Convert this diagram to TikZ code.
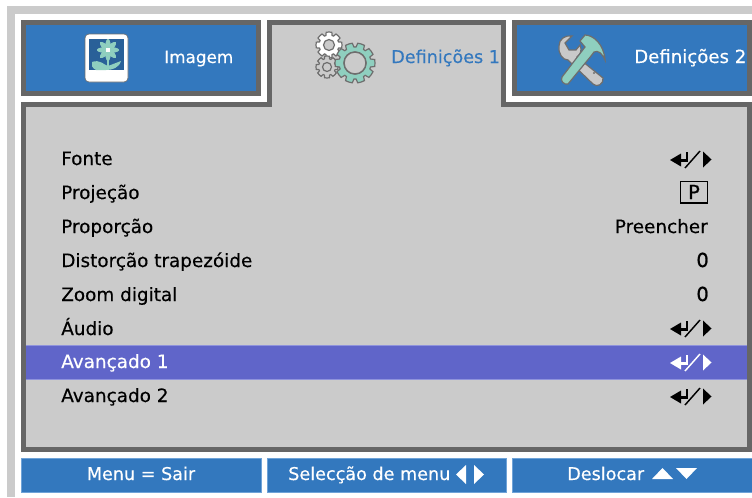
\documentclass[tikz,border=0pt]{standalone}
\usepackage{fontspec}
\setmainfont{DejaVu Sans}
\definecolor{panelgray}{HTML}{CBCBCB}
\definecolor{framedark}{HTML}{666666}
\definecolor{tabblue}{HTML}{3378BE}
\definecolor{edgeblue}{HTML}{6FA3D8}
\definecolor{rowblue}{HTML}{6065C9}
\definecolor{rowedge}{HTML}{8F93DC}
\definecolor{teal}{HTML}{8FCFBF}
\definecolor{toolgray}{HTML}{C9C9C9}
\definecolor{outl}{HTML}{6E6E6E}
\newcommand{\menufont}{\fontsize{13.8}{15}\selectfont\addfontfeatures{FakeBold=0.35}}
\newcommand{\tabfont}{\fontsize{13.2}{15}\selectfont\addfontfeatures{FakeBold=0.35}}
\newcommand{\shortfont}{\fontsize{12.6}{15}\selectfont\addfontfeatures{FakeBold=0.35}}
\newcommand{\widefont}{\fontsize{13.6}{15}\selectfont\addfontfeatures{FakeBold=0.35}}
\newcommand{\digitfont}{\fontsize{14.5}{15}\selectfont\addfontfeatures{FakeBold=1}}
\newcommand{\gearicon}[7]{% x y outer inner hole teeth fill
  \fill[#7,draw=outl,line width=0.9pt,even odd rule]
    ({#1+#3*cos(0)},{#2+#3*sin(0)})
    \foreach \k in {1,...,#6}{
      -- ({#1+#3*cos((\k-1+0.28)*360/#6)},{#2+#3*sin((\k-1+0.28)*360/#6)})
      -- ({#1+#4*cos((\k-1+0.40)*360/#6)},{#2+#4*sin((\k-1+0.40)*360/#6)})
      -- ({#1+#4*cos((\k-1+0.60)*360/#6)},{#2+#4*sin((\k-1+0.60)*360/#6)})
      -- ({#1+#3*cos((\k-1+0.72)*360/#6)},{#2+#3*sin((\k-1+0.72)*360/#6)})
      -- ({#1+#3*cos(\k*360/#6)},{#2+#3*sin(\k*360/#6)})
    } -- cycle
    (#1,#2) circle[radius=#5];
}
\newcommand{\enterarrows}[2]{% row centre y, colour
  \begin{scope}[shift={(0,#1-159)}]
    \fill[#2] (670,160) -- (681,153.5) -- (681,166.5) -- cycle;
    \draw[#2,line width=2pt] (680,160.5) -- (687,160.5) -- (687,151.5);
    \draw[#2,line width=1.1pt] (685,168) -- (700,151);
    \fill[#2] (703,151.5) -- (711.5,159.5) -- (703,167.5) -- cycle;
  \end{scope}
}
\tikzset{
  x=0.75pt,y=-0.75pt,
  menutext/.style={anchor=base west,inner sep=0pt,font=\menufont,text=black},
  valuetext/.style={anchor=base east,inner sep=0pt,font=\menufont,text=black},
  digittext/.style={anchor=base east,inner sep=0pt,font=\digitfont,text=black},
  tablabel/.style={anchor=base west,inner sep=0pt,font=\tabfont,text=white},
  btnlabel/.style={anchor=base,inner sep=0pt,font=\tabfont,text=white},
  tabbox/.style={fill=tabblue,draw=framedark,line width=3.9pt},
  btnbox/.style={fill=tabblue,draw=edgeblue,line width=0.6pt},
}
\begin{document}
\begin{tikzpicture}
\useasboundingbox (0,0) rectangle (752,497);
\fill[white] (0,0) rectangle (752,497);
% outer light frame
\fill[panelgray] (7,6) rectangle (752,14);
\fill[panelgray] (7,6) rectangle (15,497);
% main panel with raised active tab
\fill[panelgray,draw=framedark,line width=3.9pt]
  (23.6,104.6) -- (269.6,104.6) -- (269.6,22.6) -- (503.6,22.6) -- (503.6,104.6)
  -- (749.4,104.6) -- (749.4,449.4) -- (23.6,449.4) -- cycle;
% side tabs
\draw[tabbox] (23.6,22.6) rectangle (258.6,93.4);
\draw[tabbox] (514.6,22.6) rectangle (749.4,93.4);
% image icon
\fill[white,draw=outl,line width=0.5pt,rounded corners=3pt] (85,34) rectangle (128,82);
\fill[tabblue!80!black] (89,38.5) rectangle (124,70);
\foreach \a in {0,45,...,315}{
  \fill[teal,rotate around={\a:(108,50)}] (108,50) ellipse[x radius=3,y radius=11];
}
\fill[white] (106,48) rectangle (110,52);
\draw[teal,line width=1.6pt] (108,58) -- (108,68);
\fill[teal] (92,62) .. controls (100,59) and (104,65) .. (108,66)
  -- (121,61) .. controls (119,68) and (112,70) .. (106,70) -- (96,70) .. controls (92,68) and (91,65) .. (92,62) -- cycle;
% gears icon
\gearicon{329}{45}{13}{10}{5.5}{8}{white}
\gearicon{327}{67}{11}{8.5}{4.5}{8}{panelgray}
\gearicon{355}{63}{20}{16}{11}{10}{teal}
\fill[panelgray,draw=outl,line width=1.1pt] (355,63) circle[radius=11];
% tools icon
\fill[toolgray,draw=outl,line width=0.9pt]
  (559,46) .. controls (559,39) and (565,35) .. (572,36) -- (565,43) -- (569,50) -- (576,50)
  -- (580,45) .. controls (582,50) and (581,54) .. (577,57) -- (603,78)
  .. controls (604,84) and (597,88) .. (593,84) -- (568,60)
  .. controls (563,60) and (558,54) .. (559,46) -- cycle;
\fill[outl] (594,73) circle[radius=1.2];
\fill[teal,draw=outl,line width=0.9pt]
  (585,47) -- (580,41) -- (585,35) .. controls (593,35) and (604,44) .. (605,60)
  .. controls (602,53) and (598,50) .. (594,52) -- (591,56)
  -- (568,84) .. controls (564,85) and (560,81) .. (562,77) -- cycle;
% tab labels
\node[tablabel,font=\shortfont] (tab1) at (164,63) {Imagem};
\node[tablabel,text=tabblue] (tab2) at (391,63) {Definições 1};
\node[tablabel,font=\widefont] (tab3) at (634,63) {Definições 2};
% highlighted row
\fill[rowblue] (26,345) rectangle (747,379);
\draw[rowedge,line width=0.4pt] (26,345) -- (747,345) (26,379) -- (747,379);
% rows
\node[menutext] (r1) at (61,165) {Fonte};
\node[menutext] (r2) at (61,199) {Projeção};
\node[menutext] (r3) at (61,233) {Proporção};
\node[menutext] (r4) at (61,267) {Distorção trapezóide};
\node[menutext] (r5) at (61,301) {Zoom digital};
\node[menutext] (r6) at (61,335) {Áudio};
\node[menutext,text=white] (r7) at (61,368) {Avançado 1};
\node[menutext] (r8) at (61,402) {Avançado 2};
% values
\enterarrows{159}{black}
\draw[black,line width=0.8pt] (680.5,181.5) rectangle (707.5,203);
\node[digittext,anchor=base] (vp) at (694,199) {P};
\node[valuetext] (v3) at (708,233) {Preencher};
\node[digittext] (v4) at (709,267) {0};
\node[digittext] (v5) at (709,301) {0};
\enterarrows{328}{black}
\enterarrows{362}{white}
\enterarrows{396}{black}
% bottom buttons
\draw[btnbox] (21,458) rectangle (261,492);
\draw[btnbox] (267,458) rectangle (506,492);
\draw[btnbox] (512,458) rectangle (752,492);
\node[btnlabel] (b1) at (141,480) {Menu = Sair};
\node[btnlabel,anchor=base west] (b2) at (288,480) {Selecção de menu};
\fill[white] (456,474.5) -- (466,465) -- (466,484) -- cycle;
\fill[white] (474,465) -- (484,474.5) -- (474,484) -- cycle;
\node[btnlabel,anchor=base west] (b3) at (567,480) {Deslocar};
\fill[white] (652,479) -- (673,479) -- (662.5,468) -- cycle;
\fill[white] (676,468) -- (697,468) -- (686.5,479) -- cycle;
\end{tikzpicture}
\end{document}
